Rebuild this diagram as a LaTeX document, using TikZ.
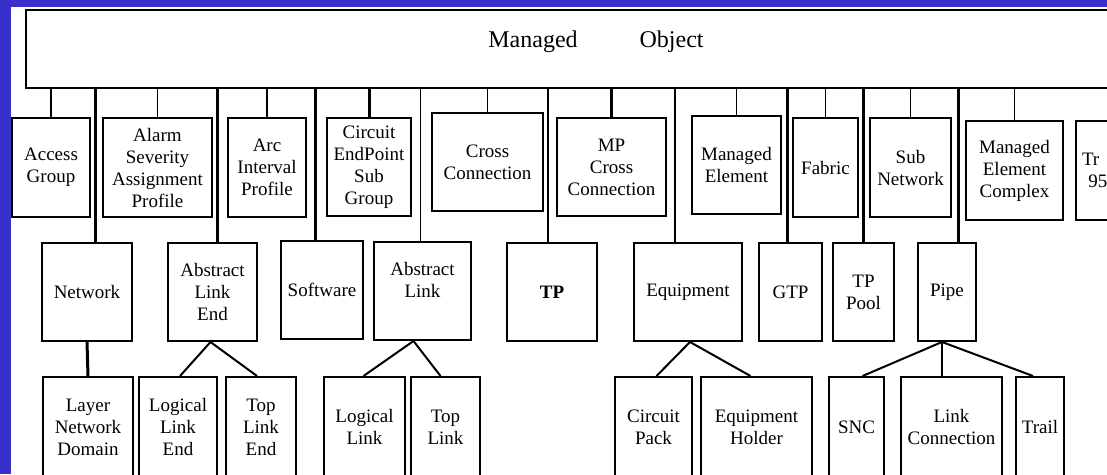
\documentclass[tikz,border=0pt]{standalone}
\usepackage{fontspec}
\setmainfont{Liberation Serif}
\usetikzlibrary{positioning,calc}
\definecolor{slideblue}{RGB}{56,48,200}
\tikzset{
  objbox/.style={draw=black, line width=2pt, fill=white, inner sep=1pt,
                 align=center, font=\fontsize{19}{22}\selectfont},
  titlelab/.style={font=\fontsize{24}{26}\selectfont, inner sep=0pt},
  busthin/.style={draw=black, line width=1.3pt},
  busthick/.style={draw=black, line width=3pt},
  sublink/.style={draw=black, line width=2pt},
}
\begin{document}
\begin{tikzpicture}[x=1pt,y=-1pt]
\useasboundingbox (0,0) rectangle (1107,474);
\clip (0,0) rectangle (1107,474);
\fill[slideblue] (0,0) rectangle (1107,474);
\fill[white] (11,7) rectangle (1107,474);
% top class
\node[objbox, minimum width=1140, minimum height=78] (mo) at (596,49) {};
\node[titlelab] (motitle) at (596,42) {Managed\hspace{62pt}Object};
% first row
\node[objbox, minimum width=78, minimum height=99] (ag) at (51,167.5) {Access\\Group};
\node[objbox, minimum width=109, minimum height=99] (asap) at (157.5,167.5) {Alarm\\Severity\\Assignment\\Profile};
\node[objbox, minimum width=78, minimum height=99] (aip) at (267,167.5) {Arc\\Interval\\Profile};
\node[objbox, minimum width=84, minimum height=98] (cesg) at (369,167) {Circuit\\EndPoint\\Sub\\Group};
\node[objbox, minimum width=111, minimum height=98] (cc) at (487.5,162) {Cross\\Connection};
\node[objbox, minimum width=109, minimum height=98] (mpcc) at (611.5,167) {MP\\Cross\\Connection};
\node[objbox, minimum width=89, minimum height=98] (me) at (736.5,165) {Managed\\Element};
\node[objbox, minimum width=65, minimum height=99] (fab) at (825.5,167.5) {Fabric};
\node[objbox, minimum width=81, minimum height=99] (sn) at (910.5,167.5) {Sub\\Network};
\node[objbox, minimum width=97, minimum height=99] (mec) at (1014.5,170.5) {Managed\\Element\\Complex};
\node[objbox, minimum width=64, minimum height=99, align=left, text width=52] (tr) at (1108,170.5) {Tr\\~95};
% second row
\node[objbox, minimum width=90, minimum height=98] (net) at (87,292) {Network};
\node[objbox, minimum width=89, minimum height=98] (ale) at (212.5,292) {Abstract\\Link\\End};
\node[objbox, minimum width=82, minimum height=98] (sw) at (322,289.5) {Software};
\node[objbox, minimum width=97, minimum height=98, text depth=22pt] (al) at (422.5,291) {Abstract\\Link};
\node[objbox, minimum width=90, minimum height=98, font=\fontsize{19}{22}\selectfont\bfseries] (tp) at (552,292) {TP};
\node[objbox, minimum width=108, minimum height=98] (eq) at (688,292) {Equipment};
\node[objbox, minimum width=63, minimum height=98] (gtp) at (790.5,292) {GTP};
\node[objbox, minimum width=61, minimum height=98] (tpp) at (863.5,292) {TP\\Pool};
\node[objbox, minimum width=58, minimum height=98] (pipe) at (947,292) {Pipe};
% third row
\node[objbox, minimum width=90, minimum height=100] (lnd) at (88,427) {Layer\\Network\\Domain};
\node[objbox, minimum width=78, minimum height=100] (lle) at (178,427) {Logical\\Link\\End};
\node[objbox, minimum width=70, minimum height=100] (tle) at (261,427) {Top\\Link\\End};
\node[objbox, minimum width=81, minimum height=100] (ll) at (364.5,427) {Logical\\Link};
\node[objbox, minimum width=69, minimum height=100] (tl) at (445.5,427) {Top\\Link};
\node[objbox, minimum width=77, minimum height=100] (cp) at (653.5,427) {Circuit\\Pack};
\node[objbox, minimum width=111, minimum height=100] (eh) at (756.5,427) {Equipment\\Holder};
\node[objbox, minimum width=55, minimum height=100] (snc) at (856.5,427) {SNC};
\node[objbox, minimum width=101, minimum height=100] (lc) at (951.5,427) {Link\\Connection};
\node[objbox, minimum width=48, minimum height=100] (trail) at (1040,427) {Trail};
% links up to Managed Object
\foreach \n in {ag,asap,aip,cc,me,fab,sn,mec,tr}
  \draw[busthin] (\n.north) -- (\n.north |- mo.south);
\foreach \n in {cesg,mpcc}
  \draw[busthick] (\n.north) -- (\n.north |- mo.south);
\draw[busthick] ([xshift=8]net.north) -- ([xshift=8]net.north |- mo.south);
\draw[busthick] ([xshift=5]ale.north) -- ([xshift=5]ale.north |- mo.south);
\draw[busthick] ([xshift=-7]sw.north) -- ([xshift=-7]sw.north |- mo.south);
\draw[busthin] ([xshift=-2]al.north) -- ([xshift=-2]al.north |- mo.south);
\draw[busthin] ([xshift=-4]tp.north) -- ([xshift=-4]tp.north |- mo.south);
\draw[busthin] ([xshift=-13]eq.north) -- ([xshift=-13]eq.north |- mo.south);
\draw[busthick] ([xshift=-3]gtp.north) -- ([xshift=-3]gtp.north |- mo.south);
\draw[busthick] (tpp.north) -- (tpp.north |- mo.south);
\draw[busthick] ([xshift=11]pipe.north) -- ([xshift=11]pipe.north |- mo.south);
% links down to the third row
\draw[busthick] (net.south) -- (lnd.north);
\draw[sublink] ([xshift=-2]ale.south) -- ([xshift=2]lle.north);
\draw[sublink] ([xshift=-2]ale.south) -- ([xshift=-4]tle.north);
\draw[sublink] ([xshift=-9]al.south) -- ([xshift=-1]ll.north);
\draw[sublink] ([xshift=-9]al.south) -- ([xshift=-5]tl.north);
\draw[sublink] ([xshift=2]eq.south) -- ([xshift=3]cp.north);
\draw[sublink] ([xshift=2]eq.south) -- ([xshift=-6]eh.north);
\draw[sublink] ([xshift=-5]pipe.south) -- ([xshift=6]snc.north);
\draw[busthin] ([xshift=-5]pipe.south) -- ([xshift=-5]pipe.south |- lc.north);
\draw[sublink] ([xshift=-5]pipe.south) -- ([xshift=-7]trail.north);
\end{tikzpicture}
\end{document}
